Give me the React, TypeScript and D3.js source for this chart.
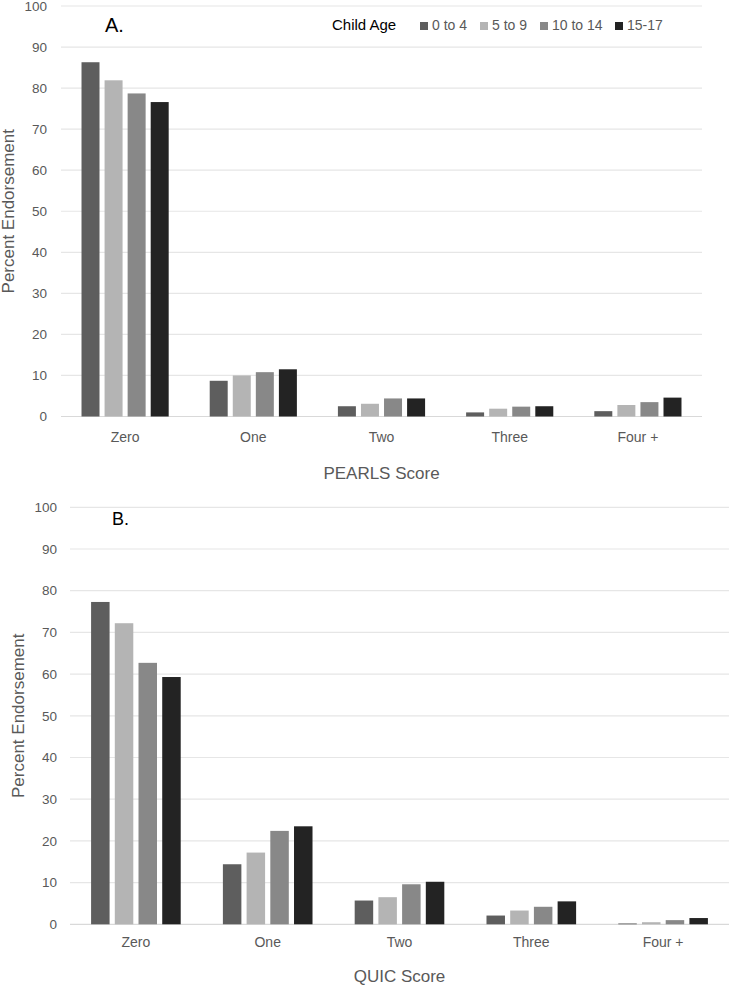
import { scaleBand, scaleLinear } from "d3";
import type { ReactElement } from "react";

const categories = ["Zero", "One", "Two", "Three", "Four +"];
const ageGroups = ["0 to 4", "5 to 9", "10 to 14", "15-17"];
const ageColors = ["#5e5e5e", "#b4b4b4", "#888888", "#232323"];
const yTickValues = [0, 10, 20, 30, 40, 50, 60, 70, 80, 90, 100];

// PEARLS score (panel A), one array per age group, order follows categories
const pearlsAge0to4 = [86.3, 8.7, 2.5, 1.0, 1.3];
const pearlsAge5to9 = [81.9, 10.0, 3.1, 1.9, 2.8];
const pearlsAge10to14 = [78.7, 10.8, 4.4, 2.4, 3.5];
const pearlsAge15to17 = [76.6, 11.5, 4.4, 2.5, 4.6];

// QUIC score (panel B)
const quicAge0to4 = [77.3, 14.4, 5.7, 2.1, 0.2];
const quicAge5to9 = [72.2, 17.2, 6.5, 3.3, 0.5];
const quicAge10to14 = [62.7, 22.4, 9.6, 4.2, 1.0];
const quicAge15to17 = [59.3, 23.5, 10.2, 5.5, 1.5];

const W = 729;
const H = 987;
const FONT = "'Liberation Sans', Arial, sans-serif";
const GREY = "#595959";

type PanelProps = Readonly<{
  series: ReadonlyArray<ReadonlyArray<number>>;
  left: number;
  right: number;
  top: number;
  bottom: number;
  tickRight: number;
  yTitleX: number;
  letter: string;
  letterX: number;
  letterY: number;
  letterSize: number;
  xTitle: string;
  xTitleY: number;
  catLabelY: number;
}>;

const Panel = (props: PanelProps): ReactElement => {
  const { series, left, right, top, bottom } = props;

  const x0 = scaleBand<string>().domain(categories).range([left, right]).paddingInner(0.32).paddingOuter(0.16);
  const x1 = scaleBand<string>().domain(ageGroups).range([0, x0.bandwidth()]).paddingInner(0.22);
  const y = scaleLinear().domain([0, 100]).range([bottom, top]);

  return (
    <g>
      {yTickValues.map((t) => (
        <g key={`t-${t}`}>
          <line x1={left} x2={right} y1={y(t)} y2={y(t)} stroke={t === 0 ? "#d9d9d9" : "#e6e6e6"} strokeWidth={1.2} />
          <text x={props.tickRight} y={y(t)} dy="0.35em" textAnchor="end" fontSize={13.5} fill={GREY}>
            {t}
          </text>
        </g>
      ))}

      {categories.map((c, ci) => (
        <g key={c}>
          {ageGroups.map((a, ai) => {
            const v = series[ai][ci];
            const bx = (x0(c) ?? 0) + (x1(a) ?? 0);
            return <rect key={a} x={bx} y={y(v)} width={x1.bandwidth()} height={y(0) - y(v)} fill={ageColors[ai]} />;
          })}
          <text x={(x0(c) ?? 0) + x0.bandwidth() / 2} y={props.catLabelY} textAnchor="middle" fontSize={14} fill={GREY}>
            {c}
          </text>
        </g>
      ))}

      <text
        transform={`translate(${props.yTitleX},${(top + bottom) / 2}) rotate(-90)`}
        textAnchor="middle"
        fontSize={17}
        fill={GREY}
      >
        Percent Endorsement
      </text>
      <text x={(left + right) / 2} y={props.xTitleY} textAnchor="middle" fontSize={17} fill={GREY}>
        {props.xTitle}
      </text>
      <text x={props.letterX} y={props.letterY} fontSize={props.letterSize} fill="#000">
        {props.letter}
      </text>
    </g>
  );
};

const Legend = (): ReactElement => {
  const itemX = [420, 480, 540, 615];
  return (
    <g>
      <text x={332} y={30} fontSize={15} fill="#000">
        Child Age
      </text>
      {ageGroups.map((a, i) => (
        <g key={a}>
          <rect x={itemX[i]} y={22} width={8} height={8} fill={ageColors[i]} />
          <text x={itemX[i] + 12} y={30} fontSize={14} fill={GREY}>
            {a}
          </text>
        </g>
      ))}
    </g>
  );
};

export default function App(): ReactElement {
  return (
    <svg
      width={W}
      height={H}
      viewBox={`0 0 ${W} ${H}`}
      style={{ position: "absolute", left: 0, top: 0, background: "#fff" }}
      fontFamily={FONT}
    >
      <Panel
        series={[pearlsAge0to4, pearlsAge5to9, pearlsAge10to14, pearlsAge15to17]}
        left={61}
        right={702}
        top={6}
        bottom={416.5}
        tickRight={47}
        yTitleX={14}
        letter="A."
        letterX={105}
        letterY={32}
        letterSize={20}
        xTitle="PEARLS Score"
        xTitleY={479}
        catLabelY={442}
      />
      <Legend />
      <Panel
        series={[quicAge0to4, quicAge5to9, quicAge10to14, quicAge15to17]}
        left={70}
        right={729}
        top={507.3}
        bottom={924.3}
        tickRight={57}
        yTitleX={24}
        letter="B."
        letterX={112}
        letterY={525}
        letterSize={18}
        xTitle="QUIC Score"
        xTitleY={982}
        catLabelY={947}
      />
    </svg>
  );
}
